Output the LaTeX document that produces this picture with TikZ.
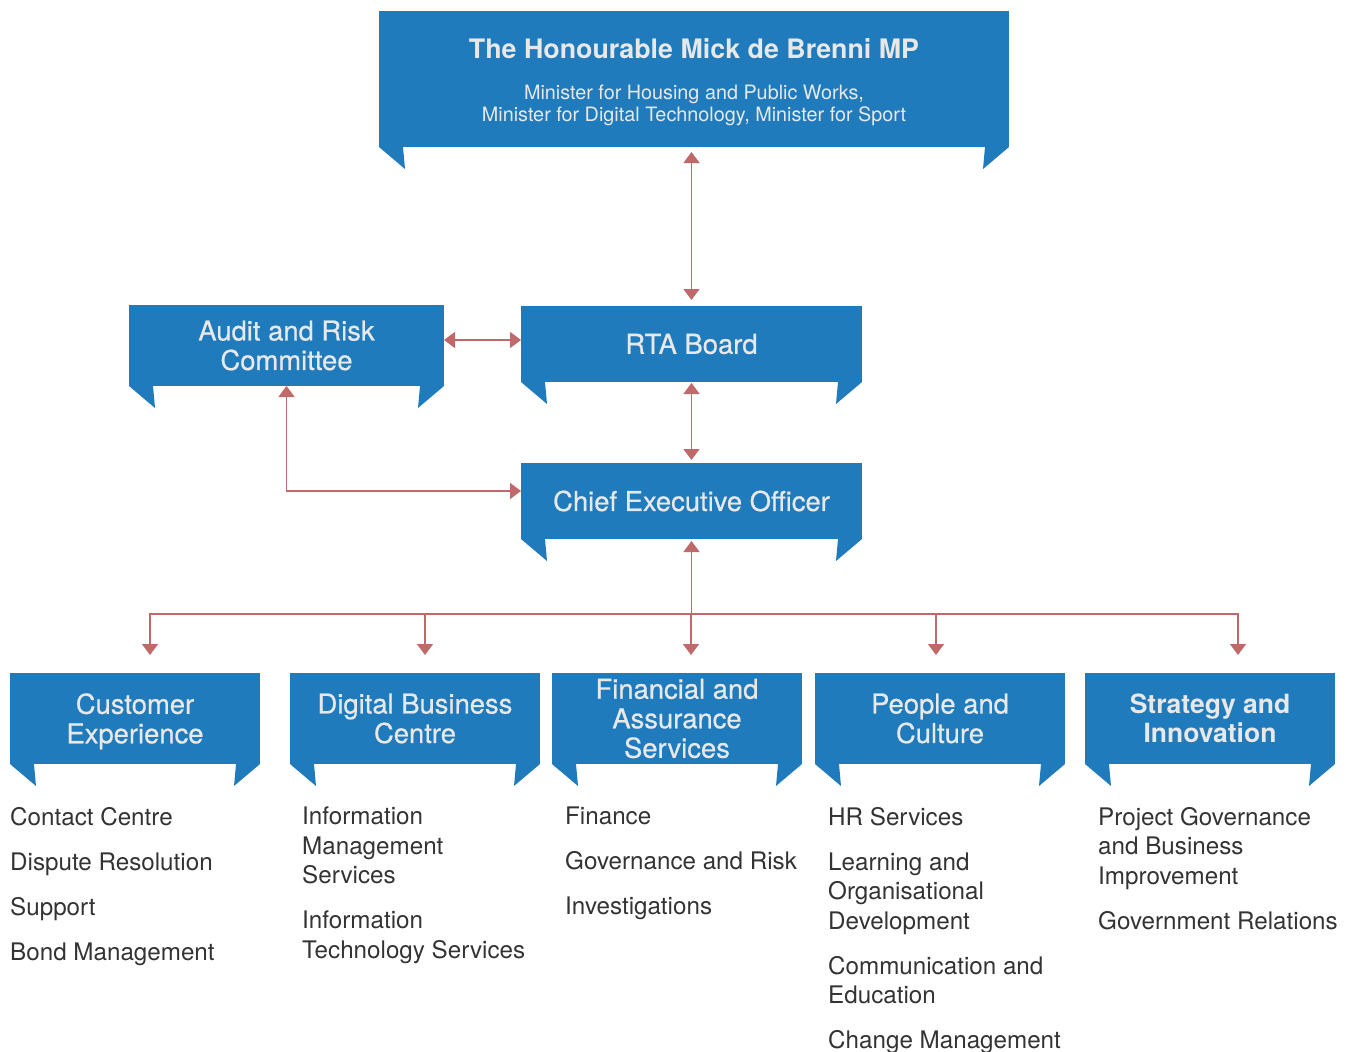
\documentclass[tikz,border=0pt]{standalone}
\usepackage{fontspec}
\setmainfont{TeX Gyre Heros}
\usetikzlibrary{arrows.meta,calc,positioning}
\definecolor{bannerblue}{HTML}{1F7BBC}
\definecolor{linkred}{HTML}{C0696B}
\definecolor{bodygrey}{HTML}{333333}
\definecolor{headgrey}{HTML}{E8E8E8}
\tikzset{
  banner/.style={rectangle, fill=bannerblue, text=headgrey, align=center, inner sep=0pt, outer sep=0pt,
    font=\fontsize{27.4}{29.5}\selectfont\addfontfeature{FakeBold=0.6}},
  topbox/.style={banner, minimum width=630pt, minimum height=136pt, font=\fontsize{19.8}{22}\selectfont},
  sidebox/.style={banner, minimum width=315pt, minimum height=81pt},
  midbox/.style={banner, minimum width=341pt, minimum height=76pt},
  unitbox/.style={banner, minimum width=250pt, minimum height=91pt},
  duties/.style={anchor=north west, align=left, inner sep=0pt, text=bodygrey, font=\fontsize{24.2}{29.5}\selectfont},
  link/.style={draw=linkred, line width=1.5pt},
  both/.style={link, {Triangle[width=16pt,length=11pt]}-{Triangle[width=16pt,length=11pt]}},
  down/.style={link, -{Triangle[width=16pt,length=11pt]}}
}
\newcommand\bannertabs[1]{%
  \fill[bannerblue] (#1.south west) -- ++(26,22) -- ++(-2,-22) -- cycle;
  \fill[bannerblue] (#1.south east) -- ++(-26,22) -- ++(2,-22) -- cycle;}
\newcommand\gap{\\[15.5pt]}
\newcommand\lift[1]{\rule{0pt}{#1}}

\begin{document}
\begin{tikzpicture}[x=1pt,y=-1pt]
\useasboundingbox (0,0) rectangle (1352,1052);

% banners
\node[topbox] (minister) at (694,79) {\lift{26.5pt}{\fontsize{26.8}{30}\selectfont\bfseries The Honourable Mick de Brenni MP}\\[19pt]
  Minister for Housing and Public Works,\\
  Minister for Digital Technology, Minister for Sport};
\node[sidebox] (audit) at (286.5,345.5) {Audit and Risk\\Committee};
\node[midbox] (rta) at (691.5,344) {RTA Board};
\node[midbox] (ceo) at (691.5,501) {Chief Executive Officer};
\node[unitbox] (cx) at (135,718.5) {\lift{26pt}Customer\\Experience};
\node[unitbox] (dbc) at (415,718.5) {Digital Business\\Centre};
\node[unitbox] (fas) at (677,718.5) {Financial and\\Assurance\\Services};
\node[unitbox] (pc) at (940,718.5) {People and\\Culture};
\node[unitbox, font=\fontsize{26.5}{29.5}\selectfont\bfseries] (si) at (1210,718.5) {Strategy and\\Innovation};
\foreach \n in {minister,audit,rta,ceo,cx,dbc,fas,pc,si}
  \bannertabs{\n};

% links between banners
\draw[both, shorten <=5pt, shorten >=6pt] (minister.south -| rta.north) -- (rta.north);
\draw[both] ([yshift=4pt]rta.west -| audit.east) -- ([yshift=4pt]rta.west);
\draw[both, shorten <=1pt, shorten >=3pt] (rta.south) -- (ceo.north);
\draw[both] (audit.south) |- ([yshift=10pt]ceo.west);

% bus to the units
\coordinate (bus) at (691.5,614);
\draw[down, shorten >=2pt] (bus) -- (ceo.south);
\foreach \n/\dx in {cx/15,dbc/10,fas/14,pc/-4,si/28}
  \draw[down] (bus) -| ($(\n.north)+(\dx,-18)$);

% duties under each unit
\node[duties] (cxlist) at (10,807) {Contact Centre\gap Dispute Resolution\gap Support\gap Bond Management};
\node[duties] (dbclist) at (302,807) {Information\\Management\\Services\gap Information\\Technology Services};
\node[duties] (faslist) at (565,807) {Finance\gap Governance and Risk\gap Investigations};
\node[duties] (pclist) at (828,807) {HR Services\gap Learning and\\Organisational\\Development\gap Communication and\\Education\gap Change Management};
\node[duties] (silist) at (1098,807) {Project Governance\\and Business\\Improvement\gap Government Relations};
\end{tikzpicture}
\end{document}
